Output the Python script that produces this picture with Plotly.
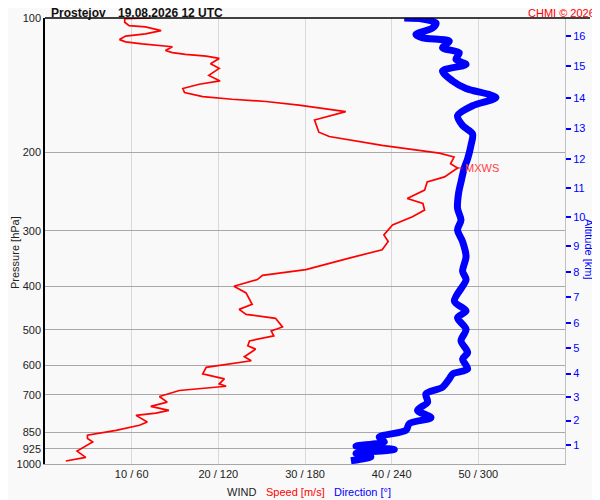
import numpy as np
import plotly.graph_objects as go

# Sounding: station + time
STATION = "Prostejov"
STAMP = "19.08.2026 12 UTC"
CREDIT = "CHMI © 2026"

# wind speed profile (pressure hPa / speed m/s)
SPEED_HPA = [100, 100.4, 102.2, 104.0, 104.7, 106.7, 108.5, 109.8, 111.8, 113.1,
             114.3, 116.0, 118.3, 119.6, 120.7, 121.7, 123.2, 126.6, 129.7, 134.5,
             138.4, 140.8, 143.9, 146.9, 150.0, 152.1, 153.9, 156.8, 162.2, 169.3,
             180.3, 184.4, 193.1, 200.9, 205.0, 212.2, 216.9, 227.1, 233.1, 243.2,
             253.9, 260.5, 269.5, 279.0, 291.1, 298.7, 306.4, 317.1, 330.9, 345.4,
             366.6, 377.5, 385.9, 399.4, 413.4, 438.7, 450.1, 461.8, 471.4, 492.9,
             503.1, 516.2, 529.6, 543.3, 552.6, 574.9, 586.8, 607.3, 628.1, 644.4,
             661.2, 669.3, 684.3, 705.7, 726.5, 742.7, 758.1, 768.7, 778.0, 805.2,
             818.9, 840.3, 862.0, 876.8, 892.1, 935.6, 966.3, 984.7]
SPEED_MS = [12.2, 9.2, 9.2, 9.7, 11.6, 13.4, 11.6, 9.3, 8.6, 9.3,
            11.2, 14.7, 13.9, 14.7, 16.2, 18.6, 20.1, 19.1, 20.1, 18.9,
            20.2, 17.8, 15.9, 16.1, 18.2, 21.6, 25.5, 29.3, 34.7, 31.1,
            31.6, 32.8, 38.9, 45.5, 47.2, 46.8, 47.6, 46.1, 44.1, 43.8,
            41.8, 43.6, 43.8, 42.4, 40.1, 39.6, 39.1, 39.6, 38.9, 35.1,
            30.1, 25.1, 24.5, 21.8, 23.2, 23.9, 22.4, 23.2, 26.6, 27.4,
            26.1, 26.4, 23.6, 23.4, 24.3, 23.0, 23.8, 18.6, 18.2, 20.7,
            20.1, 20.9, 15.5, 13.2, 14.1, 12.2, 14.3, 12.8, 10.5, 11.8,
            10.9, 8.2, 4.9, 4.9, 5.5, 3.7, 4.7, 2.4]

# wind direction profile (pressure hPa / degrees)
DIR_HPA = [100, 100.5, 102.6, 105.3, 108.9, 110.8, 112.7, 116.6, 119.6, 123.8,
           127.1, 131.4, 138.4, 143.9, 150.7, 157.3, 165.5, 174.2, 181.9, 193.1,
           206.8, 216.9, 233.1, 247.4, 267.3, 283.7, 298.7, 317.1, 342.4, 369.8,
           385.9, 431.3, 454.0, 469.8, 498.7, 529.6, 562.3, 581.6, 612.4, 628.1,
           644.4, 672.7, 696.0, 726.5, 758.1, 787.0, 812.0, 840.3, 869.6, 892.1,
           912.0, 927.7, 946.8, 963.2, 983.3]
DIR_DEG = [248.7, 261.4, 270.7, 268.3, 256.8, 261.4, 279.9, 275.2, 286.8, 284.5,
           291.5, 275.2, 282.2, 291.5, 312.2, 296.0, 285.6, 289.1, 296.0, 294.9,
           292.6, 290.3, 288.0, 286.3, 285.6, 288.0, 285.6, 289.1, 291.5, 289.1,
           291.5, 283.4, 291.5, 285.6, 291.5, 288.0, 292.6, 289.1, 292.6, 282.2,
           279.9, 275.2, 263.7, 264.9, 257.9, 267.2, 252.2, 249.9, 231.4, 234.9,
           215.3, 241.8, 215.3, 225.6, 211.8]

# max wind level
MXWS_HPA = 216.9
MXWS_MS = 47.6

# axes
P_TICKS = [100, 200, 300, 400, 500, 600, 700, 850, 925, 1000]
ALT_KM = list(range(1, 17))
ALT_HPA = [908, 799, 709, 627, 550, 483, 423, 371, 324, 280, 241, 207, 177, 151, 128, 110]
WIND_TICK_DEG = [60, 120, 180, 240, 300]
WIND_TICK_TEXT = ["10 / 60", "20 / 120", "30 / 180", "40 / 240", "50 / 300"]

FONT = "Liberation Sans, Arial, sans-serif"
BG = "#f9f9f9"

# the page body has an 8px margin, so the figure is shrunk by it
OFF = 8
W, H = 600 - OFF, 500 - OFF
# plot frame on the screen: x 45..565, y 18..464 (a little room for the title)
L, R, T, B = 45 - OFF, 600 - 565, 18 - OFF, 500 - 464
PW, PH = W - L - R, H - T - B


# screen pixel -> paper helpers for the decorations round the frame
def px(x):
    return (x - OFF - L) / PW


def py(y):
    return (H - B - (y - OFF)) / PH


fig = go.Figure()

# direction first so the speed line sits on top of it
fig.add_trace(go.Scatter(x=DIR_DEG, y=DIR_HPA, mode="lines", name="Direction",
                         line=dict(color="#0000ff", width=7, shape="spline", smoothing=0.8),
                         xaxis="x", yaxis="y", hoverinfo="x+y"))
fig.add_trace(go.Scatter(x=SPEED_MS, y=SPEED_HPA, mode="lines", name="Speed",
                         line=dict(color="#ff0000", width=1.7), xaxis="x2", yaxis="y2",
                         hoverinfo="x+y"))

fig.update_layout(
    width=W, height=H,
    margin=dict(l=L, r=R, t=T, b=B),
    paper_bgcolor=BG, plot_bgcolor=BG,
    showlegend=False,
    font=dict(family=FONT, size=11, color="#222222"),
    xaxis=dict(range=[0, 360], tickvals=WIND_TICK_DEG, ticktext=WIND_TICK_TEXT,
               showgrid=True, gridcolor="#d9d9d9", gridwidth=1, zeroline=False,
               showline=True, linecolor="#a6a6a6", linewidth=1, ticks="",
               automargin=False, tickfont=dict(size=11, color="#222222")),
    xaxis2=dict(range=[0, 60], overlaying="x", visible=False, automargin=False),
    yaxis=dict(type="log", range=[3, 2], tickvals=P_TICKS,
               ticktext=[str(p) for p in P_TICKS],
               showgrid=True, gridcolor="#a8a8a8", gridwidth=1, zeroline=False,
               showline=True, linecolor="black", linewidth=1.5, ticks="",
               automargin=False, tickfont=dict(size=11, color="#222222")),
    yaxis2=dict(type="log", range=[3, 2], overlaying="y", side="right", anchor="x",
                tickvals=ALT_HPA, ticktext=[str(a) for a in ALT_KM],
                showgrid=False, zeroline=False, showline=True, linecolor="#c0c0c0",
                ticks="outside", ticklen=5, tickcolor="#0000ff", tickwidth=1.5,
                automargin=False, tickfont=dict(size=11, color="#0000ff")),
)

ann = [
    dict(text="<b>%s</b>" % STATION, x=px(50), y=py(13.4), xanchor="left", borderpad=0,
         font=dict(size=12, color="#111111")),
    dict(text="<b>%s</b>" % STAMP, x=px(117), y=py(13.4), xanchor="left", borderpad=0,
         font=dict(size=12, color="#111111")),
    dict(text=CREDIT, x=px(596), y=py(13.4), xanchor="right", borderpad=0,
         font=dict(size=11, color="#ff0000")),
    dict(text="Pressure [hPa]", x=px(15), y=py(253), textangle=-90, xanchor="center",
         font=dict(size=11, color="#222222")),
    dict(text="Altitude [km]", x=px(589), y=py(249), textangle=90, xanchor="center",
         font=dict(size=11, color="#0000ff")),
    dict(text="WIND", x=px(225), y=py(492), xanchor="left",
         font=dict(size=11, color="#222222")),
    dict(text="Speed [m/s]", x=px(264), y=py(492), xanchor="left",
         font=dict(size=11, color="#ff0000")),
    dict(text="Direction [°]", x=px(332), y=py(492), xanchor="left",
         font=dict(size=11, color="#0000ff")),
]
for a in ann:
    fig.add_annotation(xref="paper", yref="paper", showarrow=False,
                       yanchor="middle", **a)

# MXWS label tied to the max wind point
fig.add_annotation(x=MXWS_MS, y=np.log10(MXWS_HPA), xref="x2", yref="y2",
                   text="MXWS", showarrow=True, arrowhead=0, arrowwidth=1,
                   arrowcolor="#ff0000", ax=24, ay=0, standoff=0,
                   font=dict(size=11, color="#ff4040"))

# red marks on both frames at MXWS level, top frame line
mx_y = np.log10(MXWS_HPA)
fig.add_shape(type="line", xref="paper", yref="y", x0=px(43), x1=px(56),
              y0=mx_y, y1=mx_y, line=dict(color="#ff0000", width=1))
fig.add_shape(type="line", xref="paper", yref="y", x0=px(555), x1=px(568),
              y0=mx_y, y1=mx_y, line=dict(color="#ff0000", width=1))
fig.add_shape(type="line", xref="paper", yref="paper", x0=0, x1=px(590),
              y0=1, y1=1, line=dict(color="black", width=1.5))

fig.write_html("out.html")
